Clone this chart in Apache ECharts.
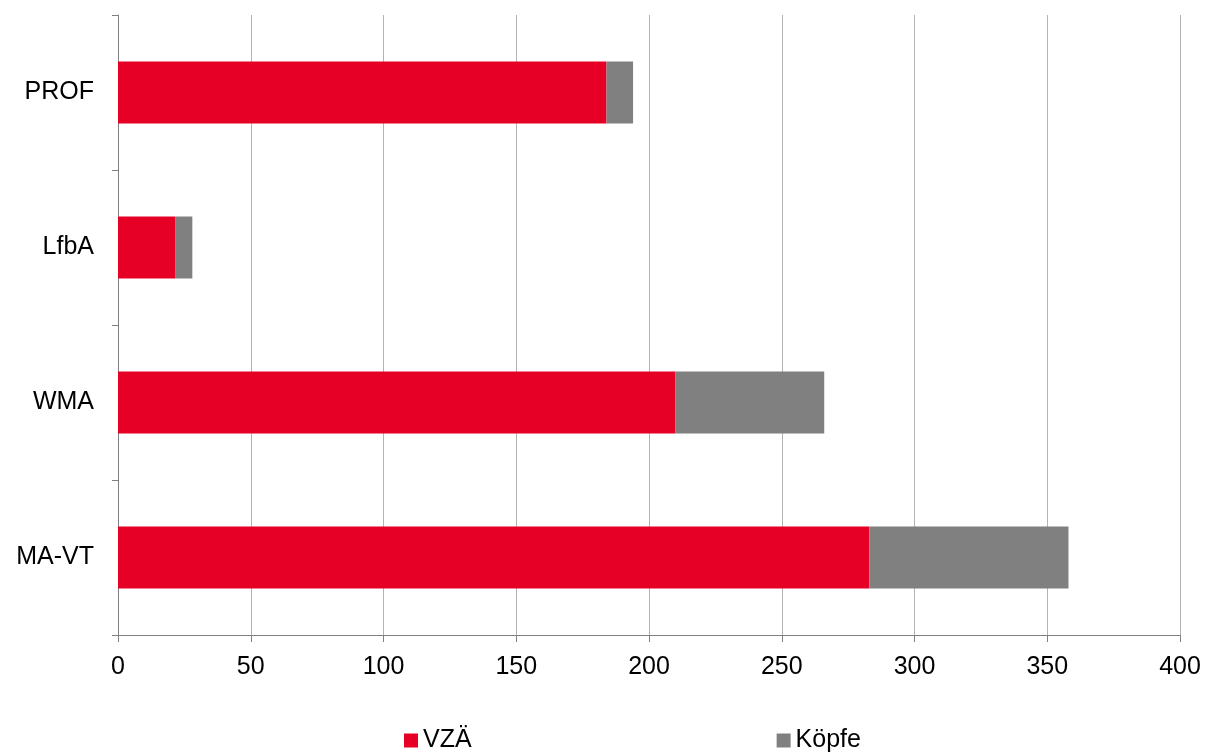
<!DOCTYPE html>
<html><head><meta charset="utf-8">
<script src="https://cdn.jsdelivr.net/npm/echarts@6/dist/echarts.min.js"></script>
<style>html,body{margin:0;padding:0;background:#fff}#c{width:1206px;height:756px}</style>
</head><body><div id="c"></div>
<script>
const categories = ['MA-VT', 'WMA', 'LfbA', 'PROF'];
const vzaValues = [283, 210, 21.5, 184];
const koepfeValues = [75, 56, 6.5, 10];
const xTicks = [0, 50, 100, 150, 200, 250, 300, 350, 400];

const chart = echarts.init(document.getElementById('c'));
const font = 'Liberation Sans, Arial, sans-serif';
chart.setOption({
  animation: false,
  grid: { left: 118, right: 26, top: 15, bottom: 121, containLabel: false },
  legend: {
    data: ['VZÄ', 'Köpfe'],
    left: 399, top: 723,
    itemWidth: 14, itemHeight: 14, itemGap: 305,
    icon: 'rect',
    textStyle: { fontFamily: font, fontSize: 25, color: '#000' }
  },
  xAxis: {
    type: 'value', min: xTicks[0], max: xTicks[xTicks.length-1], interval: 50,
    axisLine: { show: true, lineStyle: { color: '#808080', width: 1 } },
    axisTick: { show: true, length: 7, lineStyle: { color: '#808080' } },
    axisLabel: { fontFamily: font, fontSize: 25, color: '#000', margin: 20 },
    splitLine: { show: true, lineStyle: { color: '#b3b3b3', width: 1 } }
  },
  yAxis: {
    type: 'category', data: categories,
    axisLine: { show: true, lineStyle: { color: '#808080', width: 1 } },
    axisTick: { show: true, length: 6, lineStyle: { color: '#808080' } },
    axisLabel: { fontFamily: font, fontSize: 25, color: '#000', margin: 24 },
    splitLine: { show: false }
  },
  series: [
    { name: 'VZÄ', type: 'bar', stack: 's', data: vzaValues, barWidth: '40%',
      itemStyle: { color: '#e60026' } },
    { name: 'Köpfe', type: 'bar', stack: 's', data: koepfeValues, barWidth: '40%',
      itemStyle: { color: '#808080' } }
  ]
});
</script></body></html>
